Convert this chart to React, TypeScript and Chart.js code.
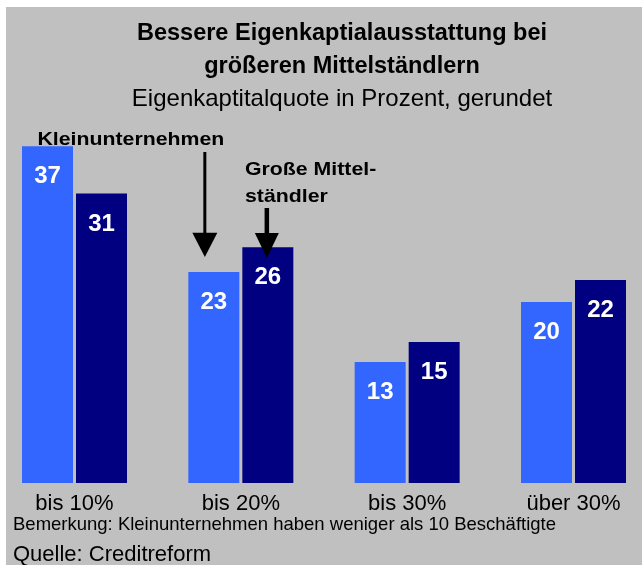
import React, { useEffect, useRef } from "react";
import { Chart, registerables } from "chart.js";

Chart.register(...registerables);

// ---- data ----
const categories = ["bis 10%", "bis 20%", "bis 30%", "über 30%"];
const kleinValues = [37.0, 23.2, 13.3, 19.9];
const grossValues = [31.8, 25.9, 15.5, 22.3];
const kleinLabels = ["37", "23", "13", "20"];
const grossLabels = ["31", "26", "15", "22"];
const seriesNames = ["Kleinunternehmen", "Große Mittelständler"];
const titleLines = ["Bessere Eigenkaptialausstattung bei", "größeren Mittelständlern"];
const subtitleText = "Eigenkaptitalquote in Prozent, gerundet";
const noteText = "Bemerkung: Kleinunternehmen haben weniger als 10 Beschäftigte";
const sourceText = "Quelle: Creditreform";
const annotKlein = ["Kleinunternehmen"];
const annotGross = ["Große Mittel-", "ständler"];

const FONT = "Arial, 'Liberation Sans', Helvetica, sans-serif";
const W = 642;
const H = 565;

const backgroundPlugin = {
  id: "bgPanel",
  beforeDraw(chart: any) {
    const ctx = chart.ctx;
    ctx.save();
    ctx.fillStyle = "#ffffff";
    ctx.fillRect(0, 0, chart.width, chart.height);
    ctx.fillStyle = "#c0c0c0";
    ctx.fillRect(6, 7, chart.width - 6, chart.height - 7);
    ctx.restore();
  },
};

const textPlugin = {
  id: "texts",
  afterDraw(chart: any) {
    const ctx = chart.ctx;
    ctx.save();
    ctx.fillStyle = "#000000";
    ctx.textAlign = "center";
    ctx.textBaseline = "alphabetic";
    ctx.font = `bold 23.5px ${FONT}`;
    ctx.fillText(titleLines[0], 342, 40);
    ctx.fillText(titleLines[1], 342, 72.7);
    ctx.font = `24px ${FONT}`;
    ctx.fillText(subtitleText, 342, 105.7);

    ctx.textAlign = "left";
    ctx.font = `18.5px ${FONT}`;
    ctx.fillText(noteText, 13, 530);
    ctx.font = `22px ${FONT}`;
    ctx.fillText(sourceText, 13, 561);
    ctx.restore();
  },
};

const valueLabelPlugin = {
  id: "valueLabels",
  afterDatasetsDraw(chart: any) {
    const ctx = chart.ctx;
    const labelSets = [kleinLabels, grossLabels];
    ctx.save();
    ctx.fillStyle = "#ffffff";
    ctx.textAlign = "center";
    ctx.textBaseline = "alphabetic";
    ctx.font = `bold 24px ${FONT}`;
    chart.data.datasets.forEach((_: any, di: number) => {
      const meta = chart.getDatasetMeta(di);
      meta.data.forEach((el: any, i: number) => {
        ctx.fillText(labelSets[di][i], el.x, el.y + 37);
      });
    });
    ctx.restore();
  },
};

function drawArrow(ctx: any, x: number, top: number, headTop: number, tip: number, shaftW: number, headW: number) {
  ctx.fillRect(x - shaftW / 2, top, shaftW, headTop - top + 1);
  ctx.beginPath();
  ctx.moveTo(x - headW / 2, headTop);
  ctx.lineTo(x + headW / 2, headTop);
  ctx.lineTo(x, tip);
  ctx.closePath();
  ctx.fill();
}

function drawStretched(ctx: any, text: string, x: number, y: number, sx: number) {
  ctx.save();
  ctx.translate(x, y);
  ctx.scale(sx, 1);
  ctx.fillText(text, 0, 0);
  ctx.restore();
}

const annotationPlugin = {
  id: "annotations",
  afterDatasetsDraw(chart: any) {
    const ctx = chart.ctx;
    const b0 = chart.getDatasetMeta(0).data[1];
    const b1 = chart.getDatasetMeta(1).data[1];
    ctx.save();
    ctx.fillStyle = "#000000";
    ctx.textAlign = "left";
    ctx.textBaseline = "alphabetic";
    ctx.font = `bold 19px ${FONT}`;
    drawStretched(ctx, annotKlein[0], 37.5, 145, 1.12);
    drawStretched(ctx, annotGross[0], 245, 175, 1.12);
    drawStretched(ctx, annotGross[1], 245, 202, 1.12);
    drawArrow(ctx, b0.x - 9, 152, 232.7, 257, 3, 25);
    drawArrow(ctx, b1.x - 1, 208, 233, 258, 4.5, 24);
    ctx.restore();
  },
};

export default function App() {
  const canvasRef = useRef<HTMLCanvasElement | null>(null);

  useEffect(() => {
    const canvas = canvasRef.current;
    if (!canvas) return;
    const chart = new Chart(canvas, {
      type: "bar",
      data: {
        labels: categories,
        datasets: [
          {
            label: seriesNames[0],
            data: kleinValues,
            backgroundColor: "#3366ff",
            borderWidth: 0,
            categoryPercentage: 0.6493,
            barPercentage: 0.9444,
            clip: false as any,
          },
          {
            label: seriesNames[1],
            data: grossValues,
            backgroundColor: "#000080",
            borderWidth: 0,
            categoryPercentage: 0.6493,
            barPercentage: 0.9444,
            clip: false as any,
          },
        ],
      },
      options: {
        responsive: false,
        animation: false,
        devicePixelRatio: 1,
        layout: { padding: { left: 74.5, right: 68.5, top: 119, bottom: 42 } },
        plugins: {
          legend: { display: false },
          title: { display: false },
          tooltip: { enabled: false },
        },
        scales: {
          x: {
            offset: false,
            grid: { display: false, drawTicks: false },
            border: { display: false },
            ticks: {
              color: "#000000",
              font: { family: FONT, size: 22 },
              padding: 8,
              maxRotation: 0,
              autoSkip: false,
            },
            afterFit: (scale: any) => {
              scale.height = 40;
            },
          },
          y: {
            display: false,
            min: 0,
            max: 40,
          },
        },
      },
      plugins: [backgroundPlugin, valueLabelPlugin, annotationPlugin, textPlugin],
    });
    return () => chart.destroy();
  }, []);

  return (
    <div style={{ position: "absolute", left: 0, top: 0, width: W, height: H }}>
      <canvas ref={canvasRef} width={W} height={H} style={{ display: "block", width: W, height: H }} />
    </div>
  );
}
